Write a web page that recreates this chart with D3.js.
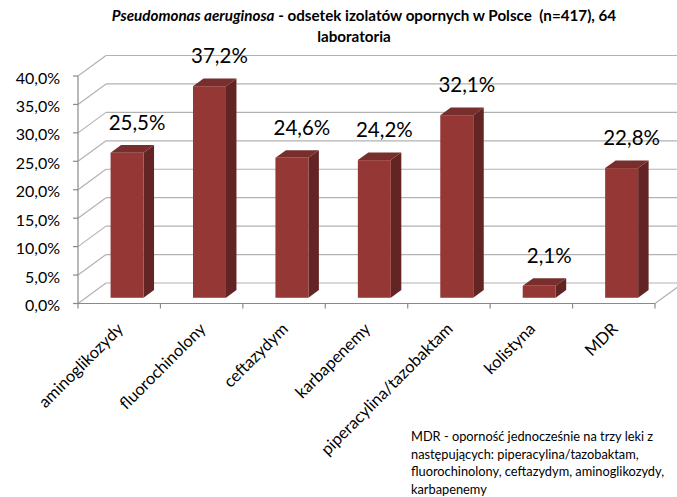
<!DOCTYPE html>
<html>
<head>
<meta charset="utf-8">
<script src="https://cdn.jsdelivr.net/npm/d3@7"></script>
<style>
  html, body { margin: 0; padding: 0; background: #fff; }
  svg { display: block; font-family: Lato, "Open Sans", sans-serif; }
  text { white-space: pre; }
</style>
</head>
<body>
<svg id="chart" width="677" height="497"></svg>
<script>
// Resistance of P. aeruginosa isolates per antibiotic group (percent)
const categories = ["aminoglikozydy", "fluorochinolony", "ceftazydym", "karbapenemy",
                    "piperacylina/tazobaktam", "kolistyna", "MDR"];
const resistance = [25.5, 37.2, 24.6, 24.2, 32.1, 2.1, 22.8];
const yTicks = [0, 5, 10, 15, 20, 25, 30, 35, 40];
const titleLines = ["odsetek izolatów opornych w Polsce  (n=417), 64", "laboratoria"];
const titleSpecies = "Pseudomonas aeruginosa";
const footnoteLines = [
  "MDR - oporność jednocześnie na trzy leki z",
  "następujących: piperacylina/tazobaktam,",
  "fluorochinolony, ceftazydym, aminoglikozydy,",
  "karbapenemy"
];

const svg = d3.select("#chart");

// Plot frame (front plane) and the oblique depth of the 3-D box
const frame = { left: 78, right: 655, bottom: 303.5, top: 76 };
const depth = { dx: 28, dy: -20.5 };
const barFront = 0.28, barDepth = 0.375;   // fractions of the box depth

const pl = d3.formatLocale({ decimal: ",", thousands: " ", grouping: [3], currency: ["", ""] });
const pct = v => pl.format(".1f")(v) + "%";

const x = d3.scaleBand().domain(categories).range([frame.left, frame.right])
  .paddingInner(0.6).paddingOuter(0.3);
const y = d3.scaleLinear().domain([0, 40]).range([frame.bottom, frame.top]);
const step = x.step();

const gridColor = "#b2b2b2", axisColor = "#8a8a8a";

// Side wall (left) diagonals and back wall gridlines
const grid = svg.append("g").attr("fill", "none").attr("stroke", gridColor).attr("stroke-width", 1.2);
grid.selectAll("line.side").data(yTicks).join("line").attr("class", "side")
  .attr("x1", frame.left).attr("y1", d => y(d))
  .attr("x2", frame.left + depth.dx).attr("y2", d => y(d) + depth.dy);
grid.selectAll("line.back").data(yTicks).join("line").attr("class", "back")
  .attr("x1", frame.left + depth.dx).attr("y1", d => y(d) + depth.dy)
  .attr("x2", frame.right + depth.dx).attr("y2", d => y(d) + depth.dy);
// Right edge of the floor
grid.append("line")
  .attr("x1", frame.right).attr("y1", y(0))
  .attr("x2", frame.right + depth.dx).attr("y2", y(0) + depth.dy);

// Category axis along the front edge of the floor
const axes = svg.append("g").attr("stroke", axisColor).attr("stroke-width", 1.2);
axes.append("line").attr("x1", frame.left).attr("x2", frame.right).attr("y1", y(0)).attr("y2", y(0));
axes.selectAll("line.xt").data(d3.range(categories.length + 1)).join("line").attr("class", "xt")
  .attr("x1", i => frame.left + i * step).attr("x2", i => frame.left + i * step)
  .attr("y1", y(0)).attr("y2", y(0) + 5);
// Value axis
axes.append("line").attr("x1", frame.left).attr("x2", frame.left).attr("y1", y(40)).attr("y2", y(0));
axes.selectAll("line.yt").data(yTicks).join("line").attr("class", "yt")
  .attr("x1", frame.left - 5).attr("x2", frame.left).attr("y1", d => y(d)).attr("y2", d => y(d));

svg.append("g").selectAll("text").data(yTicks).join("text")
  .attr("x", 60).attr("y", d => y(d) + 2).attr("dy", "0.35em")
  .attr("text-anchor", "end").attr("font-size", 16).attr("fill", "#000")
  .text(d => pct(d));

// 3-D columns: front face, right side and top
const fdx = barFront * depth.dx, fdy = barFront * depth.dy;
const bdx = barDepth * depth.dx, bdy = barDepth * depth.dy;
const bars = svg.append("g").selectAll("g").data(categories).join("g");
bars.each(function (c, i) {
  const g = d3.select(this);
  const x0 = x(c) + fdx, x1 = x0 + x.bandwidth();
  const yt = y(resistance[i]) + fdy, yb = y(0) + fdy;
  g.append("path").attr("fill", "#632523")
    .attr("d", `M${x1},${yt}L${x1 + bdx},${yt + bdy}L${x1 + bdx},${yb + bdy}L${x1},${yb}Z`);
  g.append("path").attr("fill", "#772e2c")
    .attr("d", `M${x0},${yt}L${x0 + bdx},${yt + bdy}L${x1 + bdx},${yt + bdy}L${x1},${yt}Z`);
  g.append("rect").attr("fill", "#953735")
    .attr("x", x0).attr("y", yt).attr("width", x.bandwidth()).attr("height", yb - yt);
});

// Value labels above the columns
svg.append("g").selectAll("text").data(categories).join("text")
  .attr("x", c => x(c) + fdx + x.bandwidth() / 2 + 10)
  .attr("y", (c, i) => y(resistance[i]) + fdy - 30)
  .attr("dy", "0.35em").attr("text-anchor", "middle")
  .attr("font-size", 20.5).attr("fill", "#000")
  .text((c, i) => pct(resistance[i]));

// Rotated category labels
svg.append("g").selectAll("text").data(categories).join("text")
  .attr("transform", c => `translate(${x(c) + x.bandwidth() / 2 + 5},330) rotate(-45)`)
  .attr("text-anchor", "end").attr("font-size", 16.5).attr("fill", "#000")
  .text(c => c);

// Title
const title = svg.append("text").attr("x", 364).attr("y", 21)
  .attr("text-anchor", "middle").attr("font-size", 15.2).attr("font-weight", "bold");
title.append("tspan").attr("font-style", "italic").text(titleSpecies);
title.append("tspan").text(" - " + titleLines[0]);
svg.append("text").attr("x", 354).attr("y", 42)
  .attr("text-anchor", "middle").attr("font-size", 15.2).attr("font-weight", "bold")
  .text(titleLines[1]);

// Footnote explaining MDR
svg.append("g").selectAll("text").data(footnoteLines).join("text")
  .attr("x", 411).attr("y", (d, i) => 441 + i * 17.5)
  .attr("font-size", 12.8).attr("fill", "#000")
  .text(d => d);
</script>
</body>
</html>
